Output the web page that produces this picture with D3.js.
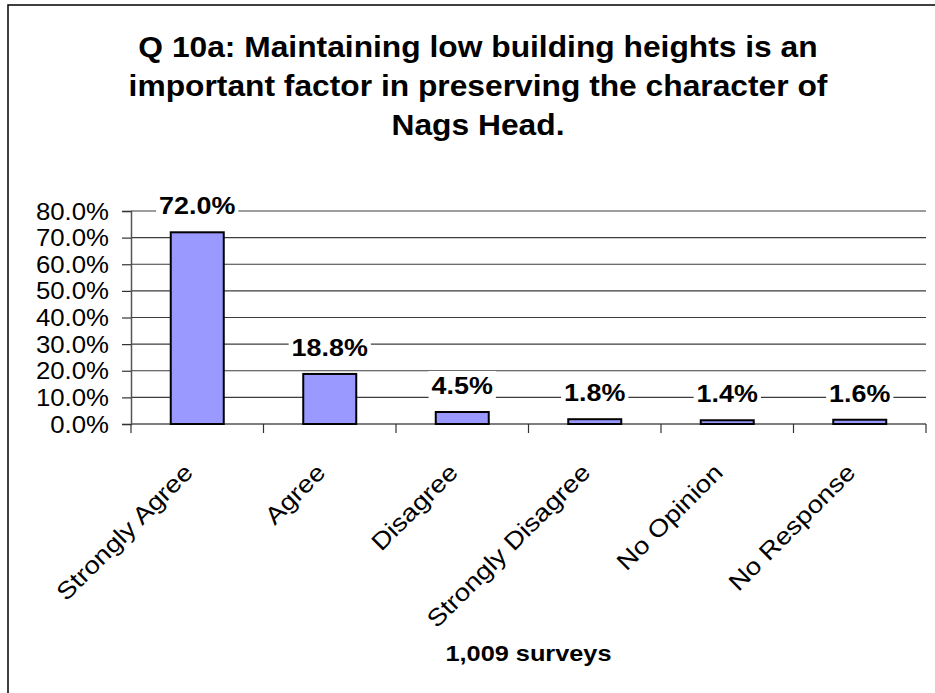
<!DOCTYPE html>
<html>
<head>
<meta charset="utf-8">
<script src="https://cdnjs.cloudflare.com/ajax/libs/d3/7.8.5/d3.min.js"></script>
<style>
  body { margin: 0; background: #fff; }
  svg { display: block; font-family: Arial, "Liberation Sans", sans-serif; }
</style>
</head>
<body>
<div class="canvas"></div>
<script>
const categories = ['Strongly Agree', 'Agree', 'Disagree', 'Strongly Disagree', 'No Opinion', 'No Response'];
const values = [72.0, 18.8, 4.5, 1.8, 1.4, 1.6];
const yTicks = [0, 10, 20, 30, 40, 50, 60, 70, 80];
const titleLines = ['Q 10a: Maintaining low building heights is an',
                    'important factor in preserving the character of',
                    'Nags Head.'];
const footnote = '1,009 surveys';

const svgWidth = 935;
const svgHeight = 693;
const plot = { left: 131, right: 926, top: 211, bottom: 424 };
const stretch = 1.12; // text in the source is a little wide

const svg = d3.select('.canvas')
    .append('svg')
        .attr('width', svgWidth)
        .attr('height', svgHeight);

// widen a text element horizontally
const widen = (sel, f) => sel.each(function(){
    const len = this.getComputedTextLength();
    d3.select(this).attr('textLength', len * f).attr('lengthAdjust', 'spacingAndGlyphs');
});

// chart frame (right and bottom edges fall outside the picture)
svg.append('path')
    .attr('d', `M8,${svgHeight + 5} V5 H${svgWidth + 5}`)
    .attr('fill', 'none')
    .attr('stroke', '#000')
    .attr('stroke-width', 1.5);

// title
svg.append('g').selectAll('text')
    .data(titleLines)
    .enter()
    .append('text')
        .attr('x', 478)
        .attr('y', (d, i) => 57 + i * 39)
        .attr('text-anchor', 'middle')
        .attr('font-size', '29px')
        .attr('font-weight', 'bold')
        .text(d => d)
        .call(widen, 1.095);

const x = d3.scaleBand()
    .domain(categories)
    .range([plot.left, plot.right]);

const y = d3.scaleLinear()
    .domain([0, 80])
    .range([plot.bottom, plot.top]);

// gridlines
svg.append('g')
    .selectAll('line')
    .data(yTicks.slice(1))
    .enter()
    .append('line')
        .attr('x1', plot.left)
        .attr('x2', plot.right)
        .attr('y1', d => y(d))
        .attr('y2', d => y(d))
        .attr('stroke', '#3c3c3c')
        .attr('stroke-width', 1.2);

// y axis
const yAxisGroup = svg.append('g')
    .attr('transform', `translate(${plot.left},0)`)
    .call(d3.axisLeft(y).tickValues(yTicks).tickSize(9).tickPadding(13)
        .tickFormat(d => d.toFixed(1) + '%'));
yAxisGroup.select('.domain').attr('stroke', '#555').attr('stroke-width', 1.5);
yAxisGroup.selectAll('.tick line').attr('stroke', '#333').attr('stroke-width', 1.2);
yAxisGroup.selectAll('.tick text')
    .attr('font-size', '23px')
    .attr('font-family', 'Arial, "Liberation Sans", sans-serif')
    .attr('fill', '#000')
    .attr('dy', '0.35em')
    .call(widen, stretch);

// x axis
const xAxisGroup = svg.append('g')
    .attr('transform', `translate(0,${plot.bottom})`);
xAxisGroup.append('line')
    .attr('x1', plot.left).attr('x2', plot.right)
    .attr('stroke', '#555').attr('stroke-width', 1.5);
xAxisGroup.selectAll('line.tk')
    .data(d3.range(categories.length + 1))
    .enter()
    .append('line')
        .attr('class', 'tk')
        .attr('x1', i => plot.left + i * x.bandwidth())
        .attr('x2', i => plot.left + i * x.bandwidth())
        .attr('y1', 0).attr('y2', 9)
        .attr('stroke', '#333').attr('stroke-width', 1.2);
xAxisGroup.selectAll('text')
    .data(categories)
    .enter()
    .append('text')
        .attr('transform', d => `translate(${x(d) + x.bandwidth() / 2 - 3},50) rotate(-45)`)
        .attr('text-anchor', 'end')
        .attr('font-size', '24px')
        .text(d => d)
        .call(widen, 1.15);

// bars
const barW = x.bandwidth() * 0.4;
svg.append('g')
    .selectAll('rect')
    .data(values)
    .enter()
    .append('rect')
        .attr('x', (d, i) => x(categories[i]) + (x.bandwidth() - barW) / 2)
        .attr('y', d => y(d))
        .attr('width', barW)
        .attr('height', d => y(0) - y(d))
        .attr('fill', '#9999ff')
        .attr('stroke', '#000')
        .attr('stroke-width', 2);

// data labels with white boxes
const labels = svg.append('g');
values.forEach((v, i) => {
    const cx = x(categories[i]) + x.bandwidth() / 2;
    const g = labels.append('g');
    const t = g.append('text')
        .attr('x', cx)
        .attr('y', y(v) - 18)
        .attr('text-anchor', 'middle')
        .attr('font-size', '24px')
        .attr('font-weight', 'bold')
        .text(v.toFixed(1) + '%')
        .call(widen, stretch);
    const b = t.node().getBBox();
    g.insert('rect', 'text')
        .attr('x', b.x - 3)
        .attr('y', b.y - 1)
        .attr('width', b.width + 6)
        .attr('height', b.height + 2)
        .attr('fill', '#fff');
});

// footnote
svg.append('text')
    .attr('x', (plot.left + plot.right) / 2)
    .attr('y', 661)
    .attr('text-anchor', 'middle')
    .attr('font-size', '22px')
    .attr('font-weight', 'bold')
    .text(footnote)
    .call(widen, 1.15);
</script>
</body>
</html>
